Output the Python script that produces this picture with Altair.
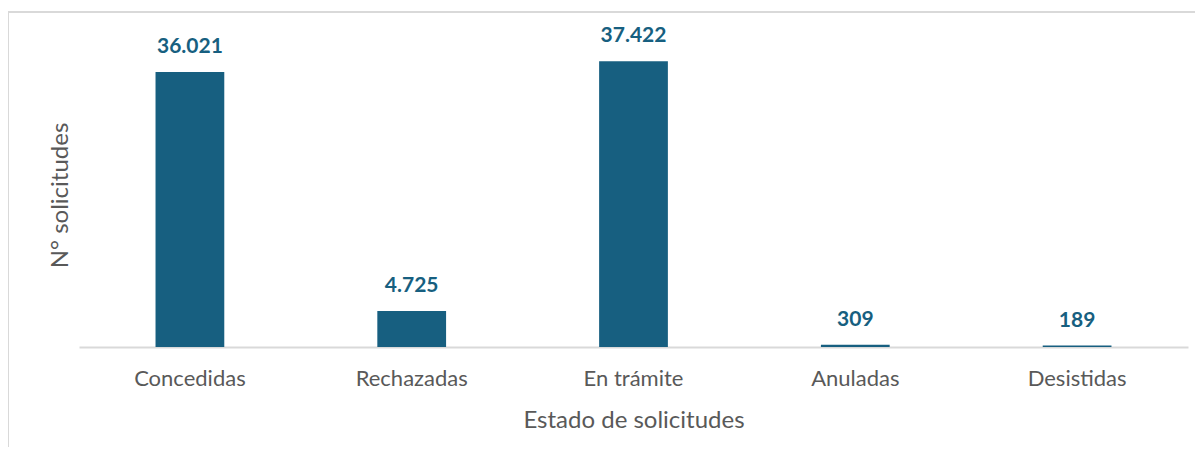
import altair as alt
import pandas as pd

categories = ["Concedidas", "Rechazadas", "En trámite", "Anuladas", "Desistidas"]
values = [36021, 4725, 37422, 309, 189]

labels = [f"{v:,}".replace(",", ".") for v in values]
df = pd.DataFrame({"estado": categories, "n": values, "label": labels})

FONT = "Lato"
BAR = "#175f80"
GRAY = "#595959"

base = alt.Chart(df)

x = alt.X("estado:N", sort=categories,
          scale=alt.Scale(paddingInner=0.69, paddingOuter=0.345),
          axis=alt.Axis(title="Estado de solicitudes", labelAngle=0, ticks=False,
                        domainColor="#d9d9d9", domainWidth=2,
                        labelFont=FONT, labelFontSize=22, labelColor=GRAY, labelPadding=21,
                        titleFont=FONT, titleFontSize=24, titleColor=GRAY,
                        titleFontWeight="normal", titlePadding=19))
y = alt.Y("n:Q", scale=alt.Scale(domain=[0, 42835], nice=False),
          axis=alt.Axis(title="N° solicitudes", labels=False, ticks=False, domain=False,
                        grid=False, titleFont=FONT, titleFontSize=24, titleColor=GRAY,
                        titleFontWeight="normal", titleX=-19, titleY=175, titleAngle=-90,
                        titleAlign="center", titleBaseline="middle"))

bars = base.mark_bar(color=BAR).encode(x=x, y=y)
text = base.mark_text(baseline="bottom", dy=-15, font=FONT, fontSize=21,
                      fontWeight="bold", color=BAR).encode(
    x=alt.X("estado:N", sort=categories), y="n:Q", text="label:N")

border_top = base.mark_rule(color="#d9d9d9", strokeWidth=2).encode(
    x=alt.value(-71), x2=alt.value(1124), y=alt.value(-8))
border_left = base.mark_rule(color="#d9d9d9", strokeWidth=2).encode(
    x=alt.value(-71), y=alt.value(-8), y2=alt.value(439))

chart = alt.layer(border_top, border_left, bars, text).properties(
    width=1109, height=327,
    autosize=alt.AutoSizeParams(type="none"),
    padding={"left": 71, "top": 12, "right": 7, "bottom": 100},
).configure_view(stroke=None)

chart.save("out.html", embed_options={"renderer": "svg", "actions": False})
